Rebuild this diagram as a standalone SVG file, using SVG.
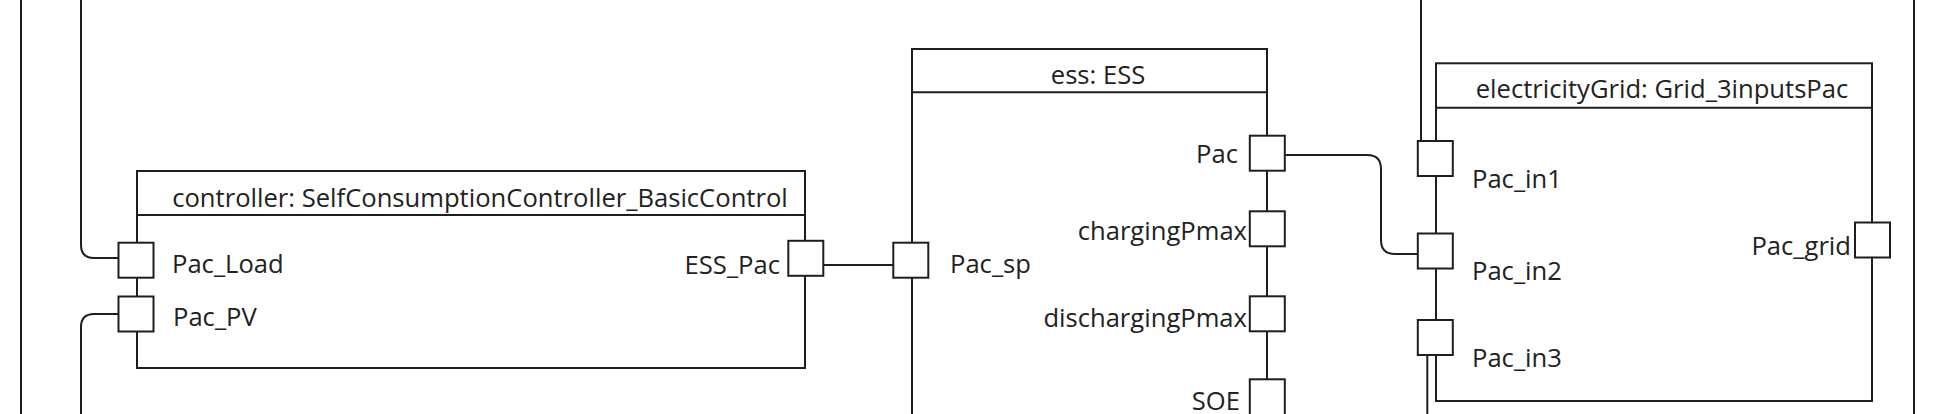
<svg xmlns="http://www.w3.org/2000/svg" width="1934" height="414" viewBox="0 0 1934 414">
<style>
  .box{fill:#ffffff;stroke:#1e1e1e;stroke-width:2}
  .ln{fill:none;stroke:#1e1e1e;stroke-width:2}
  .port{fill:#ffffff;stroke:#1e1e1e;stroke-width:2}
  .t{font-family:"Open Sans","Noto Sans",sans-serif;font-size:25.6px;fill:#222222}
  .m{text-anchor:middle}
  .e{text-anchor:end}
</style>
<rect x="0" y="0" width="1934" height="414" fill="#ffffff"/>
<g id="frame">
  <line class="ln" x1="21" y1="0" x2="21" y2="414"/>
  <line class="ln" x1="1914" y1="0" x2="1914" y2="414"/>
</g>
<g id="connectors">
  <path class="ln" d="M81 0 V245 Q81 258 94 258 H118.5"/>
  <path class="ln" d="M118.5 314 H94 Q81 314 81 327 V414"/>
  <path class="ln" d="M823.3 265 H893.3"/>
  <path class="ln" d="M1285.3 155 H1367 Q1381 155 1381 169 V240 Q1381 254 1395 254 H1417.3"/>
  <path class="ln" d="M1421 0 V141"/>
  <path class="ln" d="M1427.3 355.3 V414"/>
</g>
<g id="controller">
  <rect class="box" x="137" y="171" width="668" height="197"/>
  <line class="ln" x1="137" y1="215" x2="805" y2="215"/>
  <text class="t m" x="480" y="206.5">controller: SelfConsumptionController_BasicControl</text>
  <rect class="port" x="118.5" y="242.7" width="35" height="35"/>
  <text class="t" x="172" y="272.7">Pac_Load</text>
  <rect class="port" x="118.5" y="296.5" width="35" height="35"/>
  <text class="t" x="173" y="326">Pac_PV</text>
  <rect class="port" x="788.3" y="240.8" width="35" height="35"/>
  <text class="t e" x="780" y="274">ESS_Pac</text>
</g>
<g id="ess">
  <rect class="box" x="912" y="49" width="355" height="400"/>
  <line class="ln" x1="912" y1="92.3" x2="1267" y2="92.3"/>
  <text class="t m" x="1098" y="84">ess: ESS</text>
  <rect class="port" x="893.3" y="242.7" width="35" height="35"/>
  <text class="t" x="950" y="273">Pac_sp</text>
  <rect class="port" x="1249.8" y="135.7" width="35" height="35"/>
  <text class="t e" x="1238" y="163.3">Pac</text>
  <rect class="port" x="1249.8" y="211.3" width="35" height="35"/>
  <text class="t e" x="1247" y="240">chargingPmax</text>
  <rect class="port" x="1249.8" y="296.3" width="35" height="35"/>
  <text class="t e" x="1247" y="327">dischargingPmax</text>
  <rect class="port" x="1249.8" y="379.3" width="35" height="40"/>
  <text class="t e" x="1240" y="410">SOE</text>
</g>
<g id="electricityGrid">
  <rect class="box" x="1436" y="63.3" width="436" height="337.7"/>
  <line class="ln" x1="1436" y1="107.7" x2="1872" y2="107.7"/>
  <text class="t m" x="1662" y="98.3">electricityGrid: Grid_3inputsPac</text>
  <rect class="port" x="1417.8" y="141" width="35" height="35"/>
  <text class="t" x="1472" y="188.3">Pac_in1</text>
  <rect class="port" x="1417.8" y="233.5" width="35" height="35"/>
  <text class="t" x="1472" y="280">Pac_in2</text>
  <rect class="port" x="1417.8" y="320" width="35" height="35"/>
  <text class="t" x="1472" y="366.7">Pac_in3</text>
  <rect class="port" x="1855" y="222.5" width="35" height="35"/>
  <text class="t e" x="1851" y="255">Pac_grid</text>
</g>
</svg>
